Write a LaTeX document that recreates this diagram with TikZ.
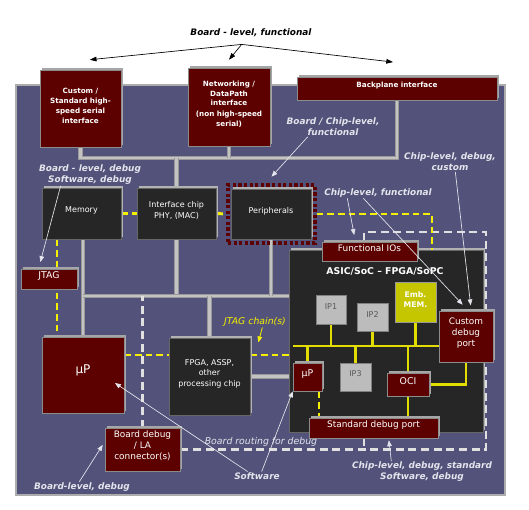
\documentclass[tikz,border=0pt]{standalone}
\usepackage{fontspec}
\setmainfont{DejaVu Sans}
\usetikzlibrary{arrows.meta,fit,shadows}
\pgfdeclarelayer{back}
\pgfdeclarelayer{wires}
\pgfsetlayers{back,wires,main}
\definecolor{boardc}{RGB}{82,82,122}
\definecolor{dred}{RGB}{92,0,0}
\definecolor{chipc}{RGB}{38,38,38}
\definecolor{ipgray}{RGB}{188,188,188}
\definecolor{embc}{RGB}{198,198,0}
\definecolor{jtagy}{RGB}{245,240,0}
\definecolor{notec}{RGB}{228,228,236}
\definecolor{busc}{RGB}{195,195,195}

\begin{document}
\begin{tikzpicture}[x=0.75pt,y=0.75pt,yscale=-1,xscale=1,
    redbox/.style={fill=dred, draw=black!45, line width=0.4pt, text=white, inner sep=0pt, align=center,
      general shadow={fill=gray!70, shadow xshift=1.3pt, shadow yshift=1.3pt}},
    darkbox/.style={fill=chipc, draw=black!60, line width=0.4pt, text=white!92, inner sep=0pt, align=center,
      general shadow={fill=gray!60, shadow xshift=1.3pt, shadow yshift=1.3pt}},
    ipbox/.style={fill=ipgray, draw=black!50, line width=0.5pt, text=black!65, inner sep=0pt},
    topfont/.style={font=\fontsize{5.4}{7.3}\selectfont\bfseries},
    boxfont/.style={font=\fontsize{6}{8}\selectfont},
    chipfont/.style={font=\fontsize{6.7}{8.2}\selectfont},
    bus/.style={draw=black!40, double=busc, double distance=2.2pt, line width=0.5pt},
    jtag/.style={draw=jtagy, line width=2.2pt, dash pattern=on 5pt off 3pt},
    route/.style={draw=white!88!black, line width=2.2pt, dash pattern=on 6pt off 3.5pt},
    ybus/.style={draw=jtagy!92!black, line width=2.2pt},
    note/.style={text=notec, font=\fontsize{6.7}{8.2}\selectfont\bfseries\itshape, align=center, inner sep=0.5pt},
    notearrow/.style={draw=notec, line width=0.5pt, -{Triangle[width=3.5pt,length=4.5pt]}},
  ]
\useasboundingbox (0,0) rectangle (529,510);

% board and chip backgrounds
\begin{pgfonlayer}{back}
  \draw[draw=gray!65, line width=1.2pt, fill=boardc] (16,85) rectangle (505,495);
  \node[darkbox, fill=black!85, fit={(289,250) (483,432)}] (asic) {};
\end{pgfonlayer}

% top interfaces
\node[redbox, topfont, fit={(40,70) (121,147)}] (custom) {Custom /\\Standard high-\\speed serial\\interface};
\node[redbox, topfont, fit={(188,68) (270,146)}] (net) {Networking /\\DataPath\\interface\\[1pt](non high-speed\\serial)};
\node[redbox, topfont, fit={(297,77) (497,100)}] (backplane) {Backplane interface};

% board level chips
\node[darkbox, boxfont, fit={(42,188) (121,239)}] (memory) {Memory};
\node[darkbox, boxfont, fit={(137,188) (216,239)}] (iface) {Interface chip\\PHY, (MAC)};
\node[darkbox, boxfont, fit={(231,189) (311,239)}] (periph) {Peripherals};
\node[draw=dred, line width=2.4pt, dash pattern=on 2.4pt off 1.8pt, inner sep=0pt, fit={(228,185) (315,243)}] (pframe) {};
\node[redbox, font=\fontsize{7}{8}\selectfont, fit={(21,269) (77,289)}] (jtag) {JTAG};
\node[redbox, font=\fontsize{9}{10}\selectfont, fit={(42,337) (124,413)}] (mup) {µP};
\node[darkbox, boxfont, fit={(169,338) (250,415)}] (fpga) {FPGA, ASSP,\\other\\processing chip};
\node[redbox, chipfont, fit={(105,428) (180,471)}] (bdebug) {Board debug\\/ LA\\connector(s)};

% inside the ASIC / FPGA
\node[redbox, chipfont, fit={(322,242) (417,261)}] (fio) {Functional IOs};
\node[text=white, font=\fontsize{7}{8}\selectfont\bfseries] (asictitle) at (385,271) {ASIC/SoC -- FPGA/SoPC};
\node[ipbox, boxfont, fit={(316,295) (346,324)}] (ip1) {IP1};
\node[ipbox, boxfont, fit={(357,303) (388,331)}] (ip2) {IP2};
\node[ipbox, boxfont, fit={(340,363) (371,391)}] (ip3) {IP3};
\node[fill=embc, draw=black!40, text=white, align=center, inner sep=0pt, font=\fontsize{5.8}{7.5}\selectfont\bfseries, fit={(395,282) (436,322)}] (emb) {Emb.\\MEM.};
\node[redbox, chipfont, fit={(439,311) (493,362)}] (cdp) {Custom\\debug\\port};
\node[redbox, font=\fontsize{7}{8}\selectfont, fit={(293,363) (322,391)}] (mup2) {µP};
\node[redbox, font=\fontsize{7}{8}\selectfont, fit={(387,373) (429,396)}] (oci) {OCI};
\node[redbox, chipfont, fit={(309,418) (438,438)}] (sdp) {Standard debug port};

\coordinate (topbus) at (0,158);
\coordinate (midbus) at (0,296);
\coordinate (jx) at (57,0);
\coordinate (jy) at (0,355);
\coordinate (jx2) at (319,0);
\coordinate (jcol) at (432,0);
\coordinate (rcol) at (486,0);
\coordinate (rrow) at (0,232);
\coordinate (rtick) at (364,0);
\coordinate (ibus) at (293,346);

\begin{pgfonlayer}{wires}
  % board buses
  \draw[bus] (custom.south) -- (custom.south |- topbus) -- (backplane.south |- topbus) -- (backplane.south);
  \draw[bus] (net.south) -- (net.south |- topbus);
  \draw[bus] (iface.north |- topbus) -- (iface.north);
  \draw[bus] (iface.south) -- (iface.south |- midbus);
  \draw[bus] (memory.south -| mup.north) -- (mup.north);
  \draw[bus] (mup.north |- midbus) -- (asic.west |- midbus);
  \draw[bus] (periph.south) -- (periph.south |- midbus);
  \draw[bus] (fpga.north) -- (fpga.north |- midbus);
  \draw[bus] (fpga.east) -- (asic.west |- fpga.east);
  % debug routing
  \draw[route] (bdebug.east) -| (rcol |- rrow) -- (rtick |- rrow) -- (rtick |- fio.north);
  \draw[route] (rtick |- sdp.south) -- (rtick |- bdebug.east);
  \draw[route] (bdebug.north) -- (bdebug.north |- midbus);
  % jtag chain
  \draw[jtag] (memory.east) -- (iface.west);
  \draw[jtag] (iface.east) -- (pframe.west);
  \draw[jtag] (pframe.east) -| (asic.north -| jcol);
  \draw[jtag] (memory.south -| jx) -- (mup.north -| jx);
  \draw[jtag] (mup.east |- jy) -- (fpga.west |- jy);
  \draw[jtag] (fpga.east |- jy) -- (asic.west |- jy);
  \draw[jtag] (mup2.south -| jx2) -- (sdp.north -| jx2);
  % on-chip bus
  \draw[ybus] (ibus) -- (ibus -| cdp.west);
  \draw[ybus] (ip1.south) -- (ip1.south |- ibus);
  \draw[ybus] (ip2.south) -- (ip2.south |- ibus);
  \draw[ybus] (emb.south) -- (emb.south |- ibus);
  \draw[ybus] (mup2.north) -- (mup2.north |- ibus);
  \draw[ybus] (ip3.north) -- (ip3.north |- ibus);
  \draw[ybus] (oci.north) -- (oci.north |- ibus);
  \draw[ybus] (oci.south) -- (sdp.north -| oci.south);
  \draw[ybus] (oci.east) -| (cdp.south);
\end{pgfonlayer}

% annotations
\node[font=\fontsize{6.7}{8.2}\selectfont\bfseries\itshape] (toplbl) at (251,33) {Board - level, functional};
\draw[line width=0.5pt, -{Triangle[width=3.5pt,length=5pt]}] ([xshift=-7pt,yshift=2pt]toplbl.south) -- ([xshift=7pt,yshift=-7.5pt]custom.north);
\draw[line width=0.5pt, -{Triangle[width=3.5pt,length=5pt]}] ([xshift=-7pt,yshift=2pt]toplbl.south) -- ([yshift=-6pt]net.north);
\draw[line width=0.5pt, -{Triangle[width=3.5pt,length=5pt]}] ([xshift=-7pt,yshift=2pt]toplbl.south) -- ([xshift=-3pt,yshift=-11pt]backplane.north);

\node[note] (bdlbl) at (90,175) {Board - level, debug\\Software, debug};
\draw[notearrow] ([xshift=-22pt]bdlbl.south) -- ([xshift=-6.5pt,yshift=-5pt]jtag.north);
\node[note] (bclbl) at (333,127) {Board / Chip-level,\\functional};
\draw[notearrow] ([xshift=-19pt]bclbl.south) -- ([yshift=-5pt]pframe.north);
\node[note] (cdlbl) at (450,162) {Chip-level, debug,\\custom};
\draw[notearrow] ([xshift=4pt]cdlbl.south) -- ([xshift=3.5pt,yshift=-4pt]cdp.north);
\node[note] (cflbl) at (378,193) {Chip-level, functional};
\draw[notearrow] ([xshift=-23pt]cflbl.south) -- ([xshift=-11.5pt,yshift=-5pt]fio.north);
\draw[notearrow] ([xshift=-11pt]cflbl.south) -- ([xshift=-2.5pt,yshift=-4.5pt]cdp.north);
\node[text=jtagy, font=\fontsize{7}{8}\selectfont\itshape, inner sep=0.5pt] (jtaglbl) at (255,322) {JTAG chain(s)};
\draw[jtagy, line width=0.6pt, -{Triangle[width=3.5pt,length=4.5pt]}] ([xshift=5.5pt]jtaglbl.south) -- ++(-4,15);
\node[text=notec, font=\fontsize{7}{8}\selectfont\itshape, inner sep=0.5pt] (rtlbl) at (261,442) {Board routing for debug};
\node[note] (swlbl) at (257,476) {Software};
\draw[notearrow] ([xshift=3.5pt]swlbl.north) -- (mup2.south west);
\draw[notearrow] ([xshift=-7pt]swlbl.north) -- ([xshift=-7pt,yshift=6pt]mup.east);
\node[note] (bllbl) at (82,487) {Board-level, debug};
\draw[notearrow] ([xshift=-2pt]bllbl.north) -- ([xshift=-1.5pt,yshift=-3.5pt]bdebug.west);
\node[note] (cslbl) at (422,472) {Chip-level, debug, standard\\Software, debug};
\draw[notearrow] ([xshift=-23pt]cslbl.north) -- ([xshift=11.5pt,yshift=1.5pt]sdp.south);
\end{tikzpicture}
\end{document}
